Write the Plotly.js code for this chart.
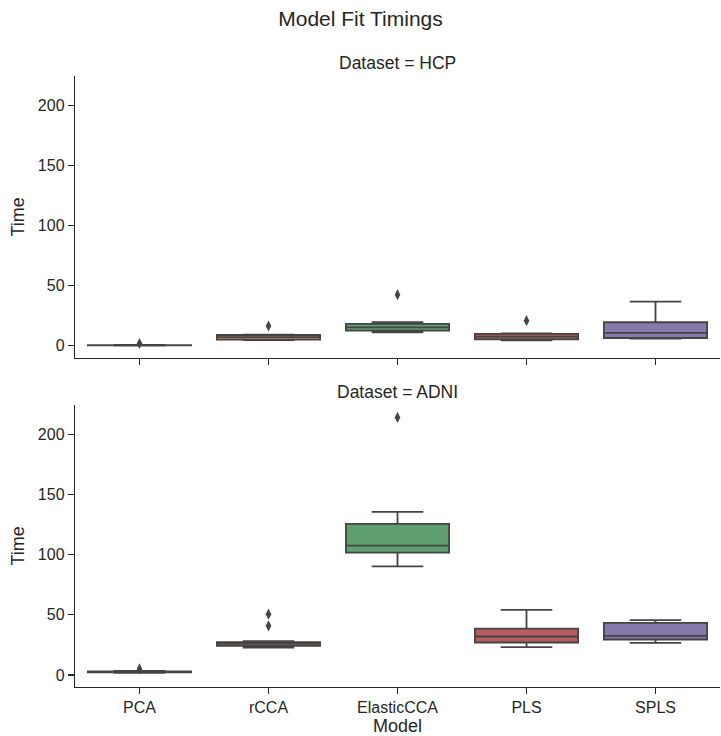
<!DOCTYPE html>
<html>
<head>
<meta charset="utf-8">
<script src="https://cdn.plot.ly/plotly-3.0.1.min.js"></script>
<style>html,body{margin:0;padding:0;background:#fff}#chart{width:721px;height:736px}</style>
</head>
<body>
<div id="chart"></div>
<script>
const models = ['PCA', 'rCCA', 'ElasticCCA', 'PLS', 'SPLS'];
const colors = ['#5875a4', '#cc8963', '#5f9e6e', '#b55d60', '#857aab'];

// HCP dataset box statistics
const hcpLower  = [0.1, 4.7, 11.2, 4.5, 5.9];
const hcpQ1     = [0.2, 5.0, 12.5, 5.3, 6.4];
const hcpMedian = [0.35, 7.2, 15.3, 7.5, 10.6];
const hcpQ3     = [0.5, 8.9, 18.1, 9.75, 19.5];
const hcpUpper  = [0.7, 9.2, 19.5, 10.3, 36.7];
const hcpOutModel = ['PCA', 'rCCA', 'ElasticCCA', 'PLS'];
const hcpOutValue = [1.8, 16.4, 42.5, 20.8];

// ADNI dataset box statistics
const adniLower  = [1.8, 22.8, 90.3, 23.1, 26.7];
const adniQ1     = [2.2, 24.2, 101.7, 27.0, 29.5];
const adniMedian = [2.5, 25.8, 107.5, 32.0, 32.5];
const adniQ3     = [2.9, 27.3, 125.6, 38.6, 43.4];
const adniUpper  = [3.3, 28.2, 135.6, 54.2, 45.6];
const adniOutModel = ['PCA', 'rCCA', 'rCCA', 'ElasticCCA'];
const adniOutValue = [5.0, 40.9, 50.6, 214.2];

const lineGray = '#444444';
const traces = [];
function addBoxes(lower, q1, med, q3, upper, xa, ya) {
  models.forEach((m, i) => {
    traces.push({
      type: 'box', x: [m], q1: [q1[i]], median: [med[i]], q3: [q3[i]],
      lowerfence: [lower[i]], upperfence: [upper[i]],
      width: 0.8, whiskerwidth: 0.5, boxpoints: false,
      fillcolor: colors[i], line: {color: lineGray, width: 1.8},
      xaxis: xa, yaxis: ya, showlegend: false, hoverinfo: 'skip'
    });
  });
}
addBoxes(hcpLower, hcpQ1, hcpMedian, hcpQ3, hcpUpper, 'x', 'y');
addBoxes(adniLower, adniQ1, adniMedian, adniQ3, adniUpper, 'x2', 'y2');
traces.push({type: 'scatter', mode: 'markers', x: hcpOutModel, y: hcpOutValue,
  marker: {symbol: 'diamond-tall', size: 8, color: lineGray}, xaxis: 'x', yaxis: 'y', showlegend: false});
traces.push({type: 'scatter', mode: 'markers', x: adniOutModel, y: adniOutValue,
  marker: {symbol: 'diamond-tall', size: 8, color: lineGray}, xaxis: 'x2', yaxis: 'y2', showlegend: false});

const fam = 'Liberation Sans, Arial, sans-serif';
const ink = '#262626';
const yRange = [-10, 224.75];
const yCommon = {
  range: yRange, tickvals: [0, 50, 100, 150, 200], ticks: 'outside', ticklen: 6, tickwidth: 1.25,
  tickcolor: ink, showline: true, linecolor: ink, linewidth: 1.25, showgrid: false, zeroline: false,
  tickfont: {family: fam, size: 16, color: ink},
  title: {text: 'Time', font: {family: fam, size: 18, color: ink}, standoff: 8}
};
const xCommon = {
  type: 'category', categoryorder: 'array', categoryarray: models, range: [-0.5, 4.5],
  ticks: 'outside', ticklen: 6, tickwidth: 1.25, tickcolor: ink, showline: true, linecolor: ink,
  linewidth: 1.25, showgrid: false, zeroline: false, tickfont: {family: fam, size: 16, color: ink}
};
const layout = {
  width: 721, height: 736,
  margin: {l: 75, r: 1, t: 76, b: 49},
  paper_bgcolor: '#fff', plot_bgcolor: '#fff',
  boxmode: 'overlay', showlegend: false,
  font: {family: fam, color: ink},
  title: {text: 'Model Fit Timings', font: {family: fam, size: 21, color: ink},
    x: 0.5, xref: 'container', xanchor: 'center', y: 0.975, yref: 'container', yanchor: 'middle'},
  xaxis: Object.assign({}, xCommon, {anchor: 'y', showticklabels: false, domain: [0, 1]}),
  yaxis: Object.assign({}, yCommon, {anchor: 'x', domain: [0.539, 1]}),
  xaxis2: Object.assign({}, xCommon, {anchor: 'y2', domain: [0, 1],
    title: {text: 'Model', font: {family: fam, size: 18, color: ink}, standoff: 4}}),
  yaxis2: Object.assign({}, yCommon, {anchor: 'x2', domain: [0, 0.462]}),
  annotations: [
    {text: 'Dataset = HCP', x: 0.5, xref: 'paper', y: 1, yref: 'paper', yanchor: 'bottom',
      yshift: 1, showarrow: false, font: {family: fam, size: 17.5, color: ink}},
    {text: 'Dataset = ADNI', x: 0.5, xref: 'paper', y: 0.462, yref: 'paper', yanchor: 'bottom',
      yshift: 1, showarrow: false, font: {family: fam, size: 17.5, color: ink}}
  ]
};
Plotly.newPlot('chart', traces, layout, {displayModeBar: false, staticPlot: true});
</script>
</body>
</html>
